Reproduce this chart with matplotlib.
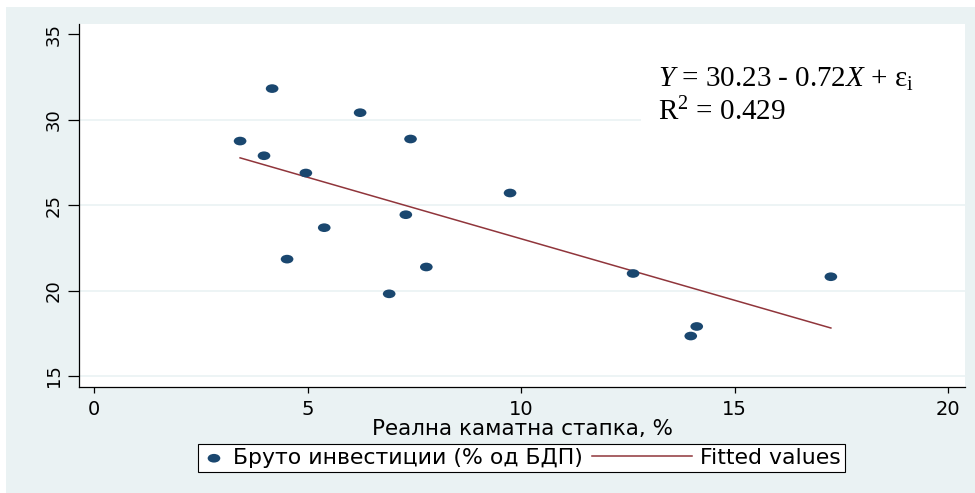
import matplotlib
matplotlib.use('Agg')
import matplotlib.pyplot as plt
import numpy as np
from matplotlib.path import Path
from matplotlib.markers import MarkerStyle
from matplotlib.transforms import Affine2D
from matplotlib.lines import Line2D
from matplotlib.patches import Rectangle
from matplotlib.legend_handler import HandlerLine2D

plt.rcParams['font.family'] = ['DejaVu Sans']
plt.rcParams['mathtext.fontset'] = 'custom'
plt.rcParams['mathtext.rm'] = 'Liberation Serif'
plt.rcParams['mathtext.it'] = 'Liberation Serif:italic'

# real interest rate (%) vs gross investment (% of GDP)
rate = [3.42, 3.98, 4.17, 4.52, 4.96, 5.39, 6.23, 6.91, 7.30, 7.41, 7.78, 9.74, 12.62, 13.97, 14.11, 17.25]
invest = [28.75, 27.89, 31.82, 21.84, 26.88, 23.68, 30.41, 19.81, 24.44, 28.87, 21.38, 25.71, 21.00, 17.34, 17.90, 20.81]
intercept = 30.23
slope = -0.72
r2 = 0.429

xticks = [0, 5, 10, 15, 20]
yticks = [15, 20, 25, 30, 35]
ygrid = [15, 20, 25, 30]

xlabel = 'Реална каматна стапка, %'
lab_points = 'Бруто инвестиции (% од БДП)'
lab_fit = 'Fitted values'

navy = '#1A476F'
maroon = '#90353B'
bg = '#EAF2F3'


class LongLine(HandlerLine2D):
    # legend line sample longer than the handle box of the marker entry
    def __init__(self, extra, **kw):
        super().__init__(**kw)
        self.extra = extra

    def create_artists(self, legend, orig_handle, xdescent, ydescent, width, height, fontsize, trans):
        y = height / 2 - ydescent
        ln = Line2D([-xdescent - self.extra * fontsize, width - xdescent], [y, y])
        self.update_prop(ln, orig_handle, legend)
        ln.set_transform(trans)
        return [ln]


fig = plt.figure(figsize=(9.75, 4.93), dpi=100)
fig.patches.append(Rectangle((6 / 975, 0), 1, 486 / 493, transform=fig.transFigure,
                             facecolor=bg, edgecolor='none', zorder=-5))

ax = fig.add_axes([79 / 975, 1 - 387.3 / 493, 886 / 975, 363.3 / 493])
ax.set_facecolor('white')

for g in ygrid:
    ax.axhline(g, color=bg, lw=1.2, zorder=0.5)

# white box behind the equation (hides the grid line)
ax.add_patch(Rectangle((0.634, 0.645), 0.366, 0.297, transform=ax.transAxes,
                       facecolor='white', edgecolor='none', zorder=0.8))

ell = Path.unit_circle().transformed(Affine2D().scale(1.46, 1.0))
sc = ax.scatter(rate, invest, s=83, marker=MarkerStyle(ell), color=navy,
                edgecolors='none', zorder=3, label=lab_points)

xs = np.array([min(rate), max(rate)])
fit, = ax.plot(xs, intercept + slope * xs, color=maroon, lw=1.1, zorder=2, label=lab_fit)

ax.set_xlim(-0.351, 20.39)
ax.set_ylim(14.34, 35.60)
ax.set_xticks(xticks)
ax.set_yticks(yticks)
ax.tick_params(axis='x', length=4.3, width=0.9, pad=4.5, labelsize=14)
ax.tick_params(axis='y', length=7.9, width=0.9, pad=3.8, labelsize=13, labelrotation=90)
for t in ax.get_yticklabels():
    t.set_va('center')
for s in ['top', 'right']:
    ax.spines[s].set_visible(False)
for s in ['left', 'bottom']:
    ax.spines[s].set_linewidth(0.9)
ax.set_xlabel(xlabel, fontsize=15.5, labelpad=0.5)

ax.text(0.6535, 0.8274, r'$Y$ = 30.23 - 0.72$X$ + ε$_\mathrm{i}$', transform=ax.transAxes,
        family='Liberation Serif', fontsize=21, va='baseline', ha='left', zorder=4)
ax.text(0.6535, 0.7358, r'R$^2$ = ' + f'{r2:.3f}', transform=ax.transAxes,
        family='Liberation Serif', fontsize=21, va='baseline', ha='left', zorder=4)

leg = fig.legend([sc, fit], [lab_points, lab_fit], loc='center',
                 bbox_to_anchor=(521.5 / 975, 1 - 458 / 493), ncol=2, fontsize=15.8,
                 handlelength=1.05, handletextpad=0.36, borderpad=0.2, columnspacing=3.9,
                 frameon=True, fancybox=False, edgecolor='black', framealpha=1,
                 handler_map={fit: LongLine(3.5)})
leg.get_frame().set_linewidth(0.8)

fig.savefig('out.png', dpi=100)
